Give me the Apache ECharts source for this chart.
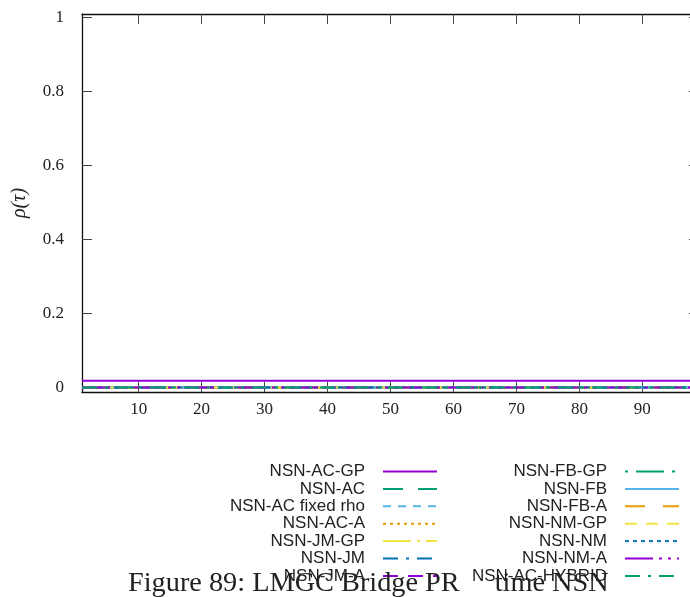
<!DOCTYPE html>
<html>
<head>
<meta charset="utf-8">
<script src="https://cdn.jsdelivr.net/npm/echarts@6/dist/echarts.min.js"></script>
<style>html,body{margin:0;padding:0;background:#fff;}#c{width:690px;height:597px;}</style>
</head>
<body>
<div id="c"></div>
<script>
// tau values (x) at which each profile is sampled
var tau = [1, 100];
// series names (legend order)
var names = ['NSN-AC-GP','NSN-AC','NSN-AC fixed rho','NSN-AC-A','NSN-JM-GP','NSN-JM','NSN-JM-A',
             'NSN-FB-GP','NSN-FB','NSN-FB-A','NSN-NM-GP','NSN-NM','NSN-NM-A','NSN-AC-HYBRID'];
// rho(tau) values per series
var acGP      = [0.018, 0.018];
var ac        = [0, 0];
var acFixed   = [0, 0];
var acA       = [0, 0];
var jmGP      = [0, 0];
var jm        = [0, 0];
var jmA       = [0, 0];
var fbGP      = [0, 0];
var fb        = [0, 0];
var fbA       = [0, 0];
var nmGP      = [0, 0];
var nm        = [0, 0];
var nmA       = [0, 0];
var acHybrid  = [0, 0];
var values = [acGP, ac, acFixed, acA, jmGP, jm, jmA, fbGP, fb, fbA, nmGP, nm, nmA, acHybrid];
// tick labels
var xTicks = [10, 20, 30, 40, 50, 60, 70, 80, 90];
var yTicks = [0, 0.2, 0.4, 0.6, 0.8, 1];

var colors = ['#9400d3','#009e73','#56b4e9','#e69f00','#f0e442','#0072b2','#9400d3',
              '#009e73','#56b4e9','#e69f00','#f0e442','#0072b2','#9400d3','#009e73'];
var dashes = ['solid',[20,15],[8,7],[3,4],[28,6,3,6],[15,8,3,8],[15,10],
              [3,8,28,8],'solid',[20,18],[12,9],[4,4],[28,6,3,6,3,6],[15,8,3,8]];

var series = names.map(function(n, i){
  return {
    name: n, type: 'line', symbol: 'none', showSymbol: false, animation: false,
    clip: true,
    lineStyle: {color: colors[i], width: 2, type: dashes[i]},
    itemStyle: {color: colors[i]},
    data: tau.map(function(t, k){ return [t, values[i][k]]; })
  };
});

var tickStyle = {color: '#444', width: 1};
var labelFont = {fontFamily: 'Liberation Serif', fontSize: 17, color: '#222'};

function legendFmt(name){ return '{a|' + name + '}{s|}'; }
var legendRich = {
  a: {fontFamily: 'Liberation Sans', fontSize: 17, color: '#222', width: 170, align: 'right', lineHeight: 17},
  s: {width: 13, lineHeight: 17}
};

var chart = echarts.init(document.getElementById('c'), null, {renderer: 'canvas'});
chart.setOption({
  backgroundColor: '#fff',
  animation: false,
  title: {
    left: 128, top: 570, padding: 0,
    text: '{a|Figure 89: LMGC Bridge PR}{g|}{a|time NSN}',
    textStyle: {
      fontWeight: 'normal',
      rich: {
        a: {fontFamily: 'Liberation Serif', fontWeight: 'normal', fontSize: 28.3, color: '#222', lineHeight: 28},
        g: {width: 35, lineHeight: 28}
      }
    }
  },
  grid: {left: 82, top: 14, width: 617, bottom: 205, containLabel: false, outerBoundsMode: 'none'},
  xAxis: [{
    type: 'value', min: 1, max: 99, position: 'bottom',
    axisLine: {show: true, onZero: false, lineStyle: {color: '#111', width: 1.3}},
    axisTick: {show: true, inside: true, length: 10, lineStyle: tickStyle, customValues: xTicks},
    axisLabel: Object.assign({customValues: xTicks, margin: 9}, labelFont),
    splitLine: {show: false}
  }, {
    type: 'value', min: 1, max: 99, position: 'top',
    axisLine: {show: true, onZero: false, lineStyle: {color: '#111', width: 1.3}},
    axisTick: {show: true, inside: true, length: 10, lineStyle: tickStyle, customValues: xTicks},
    axisLabel: {show: false},
    splitLine: {show: false}
  }],
  yAxis: [{
    type: 'value', min: -0.0124, max: 1.01, position: 'left',
    name: 'ρ(τ)', nameLocation: 'middle', nameRotate: 90, nameGap: 52,
    nameTextStyle: {fontFamily: 'Liberation Serif', fontStyle: 'italic', fontSize: 20, color: '#222'},
    axisLine: {show: true, onZero: false, lineStyle: {color: '#111', width: 1.3}},
    axisTick: {show: true, inside: true, length: 10, lineStyle: tickStyle, customValues: yTicks},
    axisLabel: Object.assign({customValues: yTicks, margin: 18}, labelFont),
    splitLine: {show: false}
  }, {
    type: 'value', min: -0.0124, max: 1.01, position: 'right',
    axisLine: {show: true, onZero: false, lineStyle: {color: '#111', width: 1.3}},
    axisTick: {show: true, inside: true, length: 10, lineStyle: tickStyle, customValues: yTicks},
    axisLabel: {show: false},
    splitLine: {show: false}
  }],
  legend: [{
    data: names.slice(0, 7), orient: 'vertical', left: 195, top: 463, padding: 0,
    align: 'right', itemWidth: 54, itemHeight: 10, itemGap: 0.4, selectedMode: false,
    itemStyle: {opacity: 0},
    formatter: legendFmt, textStyle: {rich: legendRich}
  }, {
    data: names.slice(7), orient: 'vertical', left: 437, top: 463, padding: 0,
    align: 'right', itemWidth: 54, itemHeight: 10, itemGap: 0.4, selectedMode: false,
    itemStyle: {opacity: 0},
    formatter: legendFmt, textStyle: {rich: legendRich}
  }],
  series: series
});
</script>
</body>
</html>
